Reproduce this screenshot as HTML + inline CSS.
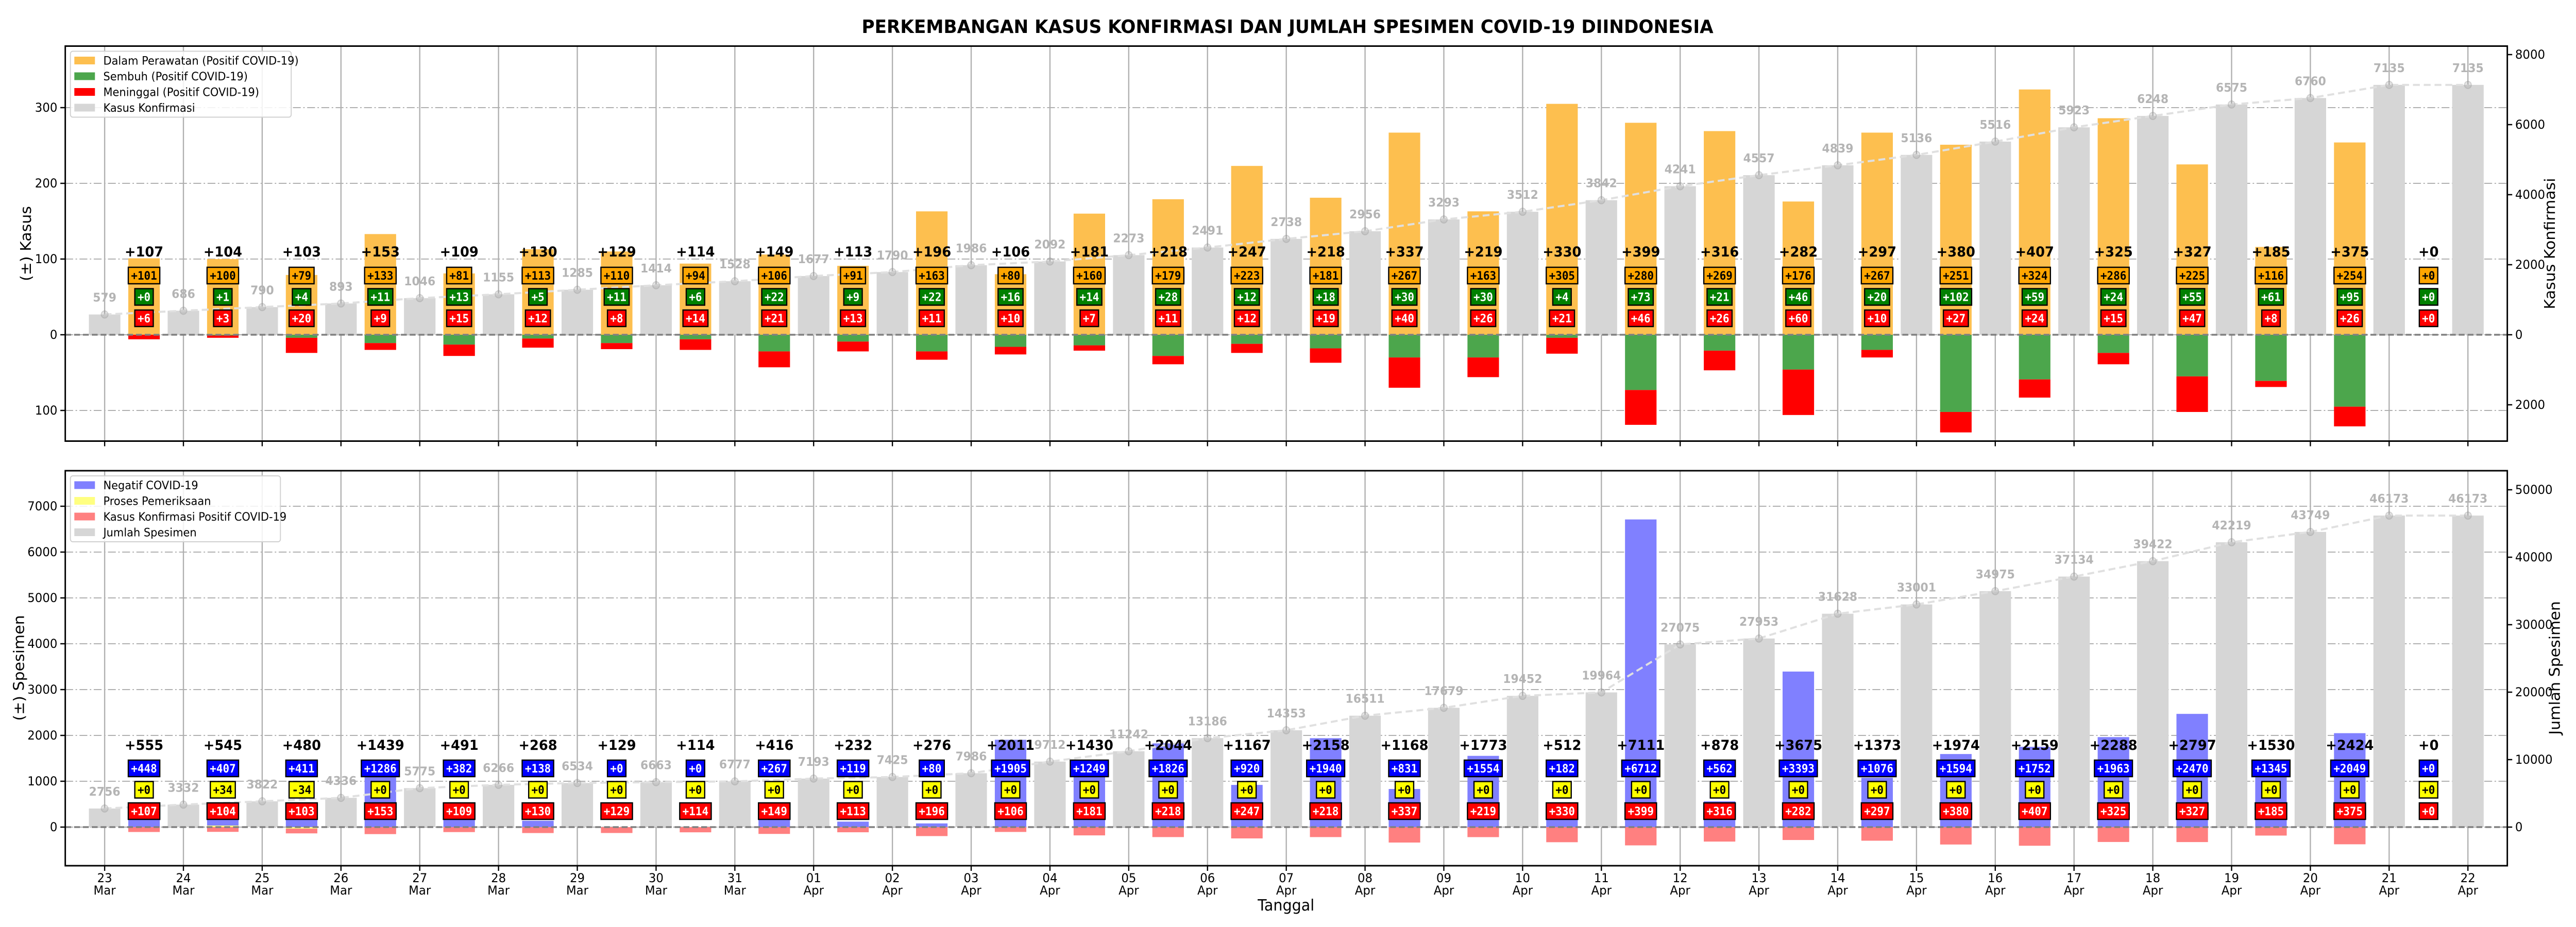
<!DOCTYPE html>
<html><head><meta charset="utf-8"><style>html,body{margin:0;padding:0;background:#fff;overflow:hidden;width:100%;height:100%}svg{display:block;position:fixed;left:0;top:0;width:100vw;height:100vh}</style></head>
<body>
<svg id="chart" xmlns="http://www.w3.org/2000/svg" viewBox="0 0 5250 1800" preserveAspectRatio="none" font-family="'DejaVu Sans','Liberation Sans',sans-serif">
<text x="2624" y="64" text-anchor="middle" font-size="36" font-weight="bold">PERKEMBANGAN KASUS KONFIRMASI DAN JUMLAH SPESIMEN COVID-19 DIINDONESIA</text>
<text transform="translate(63,473) rotate(-90)" text-anchor="middle" font-size="30">(±) Kasus</text>
<text transform="translate(49,1297) rotate(-90)" text-anchor="middle" font-size="30">(±) Spesimen</text>
<text transform="translate(5207,473) rotate(-90)" text-anchor="middle" font-size="30">Kasus Konfirmasi</text>
<text transform="translate(5217,1297) rotate(-90)" text-anchor="middle" font-size="30">Jumlah Spesimen</text>
<text x="2621" y="1768" text-anchor="middle" font-size="30">Tanggal</text>
<g id="g"></g>
</svg>
<script>
const dayLabels=["23","24","25","26","27","28","29","30","31","01","02","03","04","05","06","07","08","09","10","11","12","13","14","15","16","17","18","19","20","21","22"];
const monthLabels=["Mar","Mar","Mar","Mar","Mar","Mar","Mar","Mar","Mar","Apr","Apr","Apr","Apr","Apr","Apr","Apr","Apr","Apr","Apr","Apr","Apr","Apr","Apr","Apr","Apr","Apr","Apr","Apr","Apr","Apr","Apr"];
const kasusKonfirmasi=[579,686,790,893,1046,1155,1285,1414,1528,1677,1790,1986,2092,2273,2491,2738,2956,3293,3512,3842,4241,4557,4839,5136,5516,5923,6248,6575,6760,7135,7135];
const kasusTotal=[107,104,103,153,109,130,129,114,149,113,196,106,181,218,247,218,337,219,330,399,316,282,297,380,407,325,327,185,375,0];
const dalamPerawatan=[101,100,79,133,81,113,110,94,106,91,163,80,160,179,223,181,267,163,305,280,269,176,267,251,324,286,225,116,254,0];
const sembuh=[0,1,4,11,13,5,11,6,22,9,22,16,14,28,12,18,30,30,4,73,21,46,20,102,59,24,55,61,95,0];
const meninggal=[6,3,20,9,15,12,8,14,21,13,11,10,7,11,12,19,40,26,21,46,26,60,10,27,24,15,47,8,26,0];
const jumlahSpesimen=[2756,3332,3822,4336,5775,6266,6534,6663,6777,7193,7425,7986,9712,11242,13186,14353,16511,17679,19452,19964,27075,27953,31628,33001,34975,37134,39422,42219,43749,46173,46173];
const spesimenTotal=[555,545,480,1439,491,268,129,114,416,232,276,2011,1430,2044,1167,2158,1168,1773,512,7111,878,3675,1373,1974,2159,2288,2797,1530,2424,0];
const negatif=[448,407,411,1286,382,138,0,0,267,119,80,1905,1249,1826,920,1940,831,1554,182,6712,562,3393,1076,1594,1752,1963,2470,1345,2049,0];
const proses=[0,34,-34,0,0,0,0,0,0,0,0,0,0,0,0,0,0,0,0,0,0,0,0,0,0,0,0,0,0,0];
const positif=[107,104,103,153,109,130,129,114,149,113,196,106,181,218,247,218,337,219,330,399,316,282,297,380,407,325,327,185,375,0];
const topLeftTicks=[300,200,100,0,-100];
const topRightTicks=[8000,6000,4000,2000,0,-2000];
const botLeftTicks=[0,1000,2000,3000,4000,5000,6000,7000];
const botRightTicks=[0,10000,20000,30000,40000,50000];

const NS="http://www.w3.org/2000/svg";
const G=document.getElementById('g');
function el(tag,attrs,parent){const e=document.createElementNS(NS,tag);for(const k in attrs)e.setAttribute(k,attrs[k]);(parent||G).appendChild(e);return e;}
const X0=133,X1=5110,DW=(X1-X0)/31;
const xs=d=>X0+(d+0.5)*DW;
const BW=0.4*DW;
const P1={top:89.5,bot:856.5,zero:650,kL:1.47,kR:0.068};
const P2={top:914,bot:1681,zero:1606,kL:0.089,kR:0.0131};
const yL=(p,v)=>p.zero-v*p.kL;
const yR=(p,v)=>p.zero-v*p.kR;
const fmt=v=>(v<0?"-":"+")+Math.abs(v);

function grids(p,ticks){
  for(let d=0;d<31;d++){
    const l=el('line',{x1:xs(d),x2:xs(d),y1:p.top,y2:p.bot,stroke:'#b0b0b0','stroke-width':2.5});
    
    
  }
  ticks.forEach(t=>{
    const l=el('line',{x1:X0,x2:X1,y1:yL(p,t),y2:yL(p,t),stroke:'#b0b0b0','stroke-width':2,'stroke-dasharray':'16,5,3,5'});
    
    
  });
}
function rect(x,y1,y2,fill,name){
  const r=el('rect',{x:x-BW/2,y:Math.min(y1,y2),width:BW,height:Math.abs(y2-y1),fill:fill});
  
  
  return r;
}
function box(cx,cy,txt,bg,fg,name){
  const w=txt.length*13.3+11,h=32;
  const r=el('rect',{x:cx-w/2,y:cy-h/2,width:w,height:h,fill:bg,stroke:'#000','stroke-width':2.5});
  
  
  const t=el('text',{x:cx,y:cy+8,'text-anchor':'middle','font-size':22,'font-weight':'bold','font-family':"'DejaVu Sans Mono','Liberation Mono',monospace",fill:fg});
  t.textContent=txt;
  
  
}
function cumLine(p,vals,name){
  const pts=vals.map((v,d)=>xs(d)+','+yR(p,v)).join(' ');
  const pl=el('polyline',{points:pts,fill:'none',stroke:'#e0e0e0','stroke-width':4,'stroke-dasharray':'14,8'});
  
  
  vals.forEach((v,d)=>{
    const c=el('circle',{cx:xs(d),cy:yR(p,v),r:7,fill:'rgba(150,150,150,0.25)',stroke:'rgba(150,150,150,0.35)','stroke-width':2});
    
    
    const t=el('text',{x:xs(d),y:yR(p,v)-25,'text-anchor':'middle','font-size':23,'font-weight':'bold',fill:'#b4b4b4'});
    t.textContent=v;
    
    
  });
}
function zeroLine(p){
  const l=el('line',{x1:X0,x2:X1,y1:p.zero,y2:p.zero,stroke:'#808080','stroke-width':3.5,'stroke-dasharray':'12,6'});
  
  
}
function axes(p,lt,rt,lfmt,rfmt,showX){
  const r=el('rect',{x:X0,y:p.top,width:X1-X0,height:p.bot-p.top,fill:'none',stroke:'#000','stroke-width':3});
  
  
  lt.forEach(t=>{
    const y=yL(p,t);
    el('line',{x1:X0-10,x2:X0,y1:y,y2:y,stroke:'#000','stroke-width':2.5});
    const tx=el('text',{x:X0-16,y:y+8,'text-anchor':'end','font-size':24});
    tx.textContent=lfmt(t);
    
    
  });
  rt.forEach(t=>{
    const y=yR(p,t);
    el('line',{x1:X1,x2:X1+10,y1:y,y2:y,stroke:'#000','stroke-width':2.5});
    const tx=el('text',{x:X1+16,y:y+8,'text-anchor':'start','font-size':24});
    tx.textContent=rfmt(t);
    
    
  });
  for(let d=0;d<31;d++){
    el('line',{x1:xs(d),x2:xs(d),y1:p.bot,y2:p.bot+10,stroke:'#000','stroke-width':2.5});
    if(showX){
      const a=el('text',{x:xs(d),y:1713,'text-anchor':'middle','font-size':24});
      a.textContent=dayLabels[d];
      
      
      const b=el('text',{x:xs(d),y:1737,'text-anchor':'middle','font-size':24});
      b.textContent=monthLabels[d];
      
      
    }
  }
}
function legend(x,y,w,h,items,name){
  const r=el('rect',{x:x,y:y,width:w,height:h,rx:5,fill:'rgba(255,255,255,0.85)',stroke:'#d0d0d0','stroke-width':2});
  
  
  items.forEach((it,i)=>{
    const cy=y+18+i*30.5;
    const s=el('rect',{x:x+8,y:cy-7.5,width:42,height:15,fill:it[1]});
    
    
    const t=el('text',{x:x+67,y:cy+8,'font-size':22});
    t.textContent=it[0];
    
    
  });
}

grids(P1,topLeftTicks);
kasusKonfirmasi.forEach((v,d)=>rect(xs(d),yR(P1,0),yR(P1,v),'#d6d6d6','bar-kasus-konfirmasi'));
dalamPerawatan.forEach((v,i)=>{
  const x=xs(i+0.5);
  rect(x,yL(P1,0),yL(P1,v),'#fdbf4f','bar-dalam-perawatan');
  rect(x,yL(P1,0),yL(P1,-sembuh[i]),'#4ca64c','bar-sembuh');
  rect(x,yL(P1,-sembuh[i]),yL(P1,-sembuh[i]-meninggal[i]),'#ff0000','bar-meninggal');
});
zeroLine(P1);
cumLine(P1,kasusKonfirmasi,'kasus-konfirmasi');
kasusTotal.forEach((v,i)=>{
  const x=xs(i+0.5);
  const t=el('text',{x:x,y:498,'text-anchor':'middle','font-size':27,'font-weight':'bold'});
  t.textContent=fmt(v);
  
  
  box(x,535,fmt(dalamPerawatan[i]),'#ffa500','#000','dalam-perawatan');
  box(x,576.5,fmt(sembuh[i]),'#008000','#fff','sembuh');
  box(x,618,fmt(meninggal[i]),'#ff0000','#fff','meninggal');
});
axes(P1,topLeftTicks,topRightTicks,t=>String(Math.abs(t)),t=>String(Math.abs(t)),false);
legend(143.5,99.5,450,128,[["Dalam Perawatan (Positif COVID-19)","#fdbf4f"],["Sembuh (Positif COVID-19)","#4ca64c"],["Meninggal (Positif COVID-19)","#ff0000"],["Kasus Konfirmasi","#d6d6d6"]],'legend-kasus');

grids(P2,botLeftTicks);
jumlahSpesimen.forEach((v,d)=>rect(xs(d),yR(P2,0),yR(P2,v),'#d6d6d6','bar-jumlah-spesimen'));
negatif.forEach((v,i)=>{
  const x=xs(i+0.5);
  const pr=proses[i];
  const base=pr>0?pr:0;
  if(pr>0) rect(x,yL(P2,0),yL(P2,pr),'#ffff80','bar-proses');
  rect(x,yL(P2,base),yL(P2,base+v),'#8080ff','bar-negatif');
  const nb=pr<0?pr:0;
  if(pr<0) rect(x,yL(P2,0),yL(P2,pr),'#ffff80','bar-proses');
  rect(x,yL(P2,nb),yL(P2,nb-positif[i]),'#ff8080','bar-positif');
});
zeroLine(P2);
cumLine(P2,jumlahSpesimen,'jumlah-spesimen');
spesimenTotal.forEach((v,i)=>{
  const x=xs(i+0.5);
  const t=el('text',{x:x,y:1456,'text-anchor':'middle','font-size':27,'font-weight':'bold'});
  t.textContent=fmt(v);
  
  
  box(x,1492,fmt(negatif[i]),'#0000ff','#fff','negatif');
  box(x,1533.5,fmt(proses[i]),'#ffff00','#000','proses');
  box(x,1575,fmt(positif[i]),'#ff0000','#fff','positif');
});
axes(P2,botLeftTicks,botRightTicks,t=>String(t),t=>String(t),true);
legend(143.5,924,428,128,[["Negatif COVID-19","#8080ff"],["Proses Pemeriksaan","#ffff80"],["Kasus Konfirmasi Positif COVID-19","#ff8080"],["Jumlah Spesimen","#d6d6d6"]],'legend-spesimen');
</script>
</body></html>
